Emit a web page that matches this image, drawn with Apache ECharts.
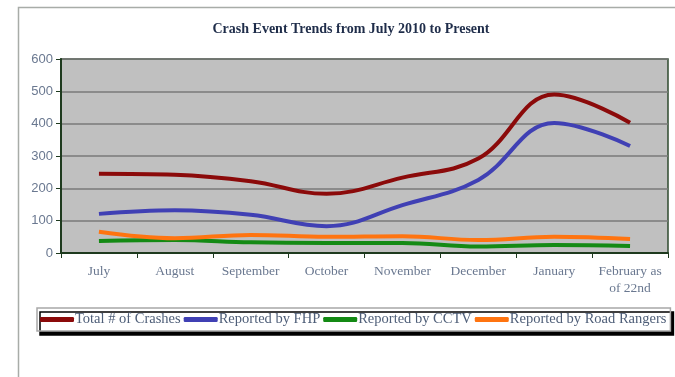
<!DOCTYPE html>
<html>
<head>
<meta charset="utf-8">
<script src="https://cdn.jsdelivr.net/npm/echarts@6/dist/echarts.min.js"></script>
<style>
html,body{margin:0;padding:0;background:#fff;}
#c{width:675px;height:377px;}
</style>
</head>
<body>
<div id="c"></div>
<script>
var categories = ['July','August','September','October','November','December','January','February as\nof 22nd'];
var totalCrashes = [245, 242, 222, 183, 233, 292, 490, 403];
var reportedFHP = [121, 132, 118, 83, 148, 226, 402, 331];
var reportedCCTV = [37, 40, 33, 31, 31, 20, 25, 22];
var reportedRoadRangers = [66, 46, 56, 50, 52, 40, 50, 43];
var seriesNames = ['Total # of Crashes','Reported by FHP','Reported by CCTV','Reported by Road Rangers'];
var yTicks = [0, 100, 200, 300, 400, 500, 600];

var colors = ['#8b0a0a', '#4040b4', '#148a14', '#ff7410'];
var fontFam = '"Liberation Serif", "DejaVu Serif", serif';
var chart = echarts.init(document.getElementById('c'));
function mk(name, data, color) {
  return {
    name: name, type: 'line', data: data, smooth: 0.4, symbol: 'none',
    lineStyle: {width: 4, color: color}, itemStyle: {color: color}
  };
}
chart.setOption({
  animation: false,
  title: {
    text: 'Crash Event Trends from July 2010 to Present',
    left: 346, textAlign: 'center', top: 17,
    textStyle: {fontFamily: fontFam, fontSize: 14, fontWeight: 'bold', color: '#1f2d4a'}
  },
  graphic: [{
    type: 'rect', left: 16, top: 5, shape: {width: 700, height: 400},
    style: {fill: 'none', stroke: '#a8aca8', lineWidth: 1.5}, silent: true, z: -10
  }],
  legend: {
    data: seriesNames,
    left: 37, top: 308, width: 700,
    padding: [4, 4, 4, 3],
    itemGap: 3,
    itemWidth: 34, itemHeight: 5,
    icon: 'roundRect',
    backgroundColor: '#fff',
    borderColor: '#a8a8a8', borderWidth: 1.5,
    shadowColor: '#000', shadowBlur: 0, shadowOffsetX: 3, shadowOffsetY: 4,
    textStyle: {fontFamily: fontFam, fontSize: 14.5, color: '#4e5e78', padding: [0, 0, 0, -4]}
  },
  grid: {
    left: 61, right: 7, top: 59, bottom: 124,
    show: true, backgroundColor: '#c0c0c0', borderColor: '#2e4a2e', borderWidth: 1.5
  },
  xAxis: {
    type: 'category', data: categories, boundaryGap: true,
    axisLine: {lineStyle: {color: '#1e3a1e', width: 2}},
    axisTick: {show: true, length: 5, lineStyle: {color: '#1e3a1e', width: 1}},
    axisLabel: {fontFamily: fontFam, fontSize: 13.5, color: '#6a7890', margin: 10, lineHeight: 17, interval: 0}
  },
  yAxis: {
    type: 'value', min: yTicks[0], max: yTicks[yTicks.length - 1], interval: 100,
    axisLine: {show: true, lineStyle: {color: '#1e3a1e', width: 2}},
    axisTick: {show: true, length: 5, lineStyle: {color: '#1e3a1e'}},
    axisLabel: {fontFamily: '"Liberation Sans", Arial, sans-serif', fontSize: 13, color: '#6a7890', margin: 8},
    splitLine: {lineStyle: {color: '#7a7a7a', width: 1.5}}
  },
  series: [
    mk(seriesNames[0], totalCrashes, colors[0]),
    mk(seriesNames[1], reportedFHP, colors[1]),
    mk(seriesNames[2], reportedCCTV, colors[2]),
    mk(seriesNames[3], reportedRoadRangers, colors[3])
  ]
});
</script>
</body>
</html>
